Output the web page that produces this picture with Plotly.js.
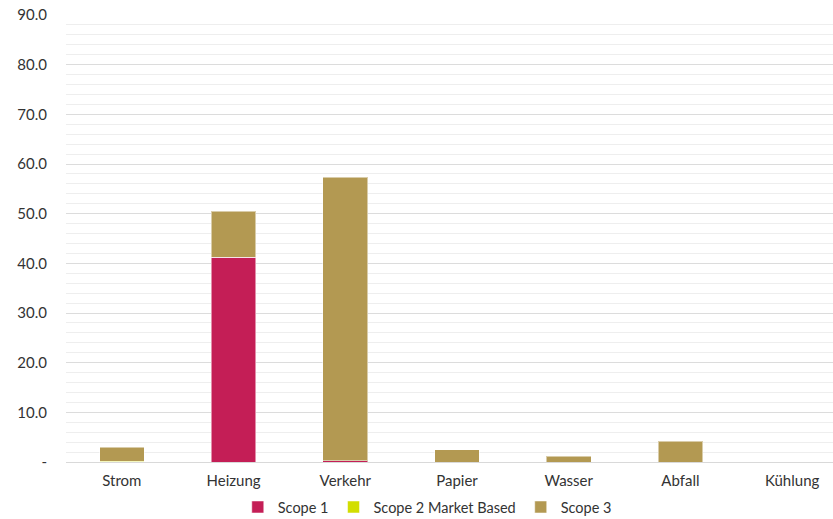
<!DOCTYPE html>
<html>
<head>
<meta charset="utf-8">
<script src="https://cdn.plot.ly/plotly-3.0.1.min.js"></script>
<style>
html,body{margin:0;padding:0;overflow:hidden;background:#fff;width:833px;height:519px;}
#chart{width:850px;height:519px;}
</style>
</head>
<body>
<div id="chart"></div>
<script>
const categories = ["Strom", "Heizung", "Verkehr", "Papier", "Wasser", "Abfall", "Kühlung"];
const scope1 = [0, 41.2, 0.3, 0, 0, 0, 0];
const scope2 = [0.2, 0, 0, 0, 0, 0, 0];
const scope3 = [2.8, 9.3, 57.0, 2.5, 1.15, 4.2, 0];
const seriesNames = ["Scope 1", "Scope 2 Market Based", "Scope 3"];
const seriesColors = ["#C41E56", "#D2DE00", "#B39952"];
const tickVals = [0, 10, 20, 30, 40, 50, 60, 70, 80, 90];
const tickText = ["-", "10.0", "20.0", "30.0", "40.0", "50.0", "60.0", "70.0", "80.0", "90.0"];

const font = "Lato, sans-serif";
const data = [scope1, scope2, scope3].map((vals, i) => ({
  type: "bar",
  name: seriesNames[i],
  x: categories,
  y: vals,
  marker: {color: seriesColors[i], line: {color: "rgba(255,255,255,0.5)", width: 1}},
  hoverinfo: "skip"
}));

const layout = {
  width: 850,
  height: 519,
  barmode: "stack",
  bargap: 0.6,
  margin: {l: 66, r: 2, t: 15, b: 57},
  paper_bgcolor: "#fff",
  plot_bgcolor: "#fff",
  font: {family: font, size: 15, color: "#333"},
  showlegend: true,
  legend: {
    orientation: "h",
    x: 0.462, xanchor: "center", xref: "paper",
    y: 0.023, yanchor: "middle", yref: "container",
    font: {family: font, size: 14.5, color: "#333"},
    itemwidth: 30,
    traceorder: "normal"
  },
  xaxis: {
    type: "category",
    showgrid: false,
    showline: true,
    linecolor: "#d9d9d9",
    linewidth: 1,
    ticks: "",
    ticklabelstandoff: 5,
    tickfont: {family: font, size: 15, color: "#333"},
    zeroline: false
  },
  yaxis: {
    range: [0, 90],
    tickmode: "array",
    tickvals: tickVals,
    ticktext: tickText,
    showgrid: true,
    gridcolor: "#dcdcdc",
    gridwidth: 1,
    minor: {dtick: 2, showgrid: true, gridcolor: "#eeeeee", gridwidth: 1},
    zeroline: false,
    ticks: "",
    ticklabelstandoff: 18,
    tickfont: {family: font, size: 15, color: "#333"}
  }
};

Plotly.newPlot("chart", data, layout, {displayModeBar: false, staticPlot: true});
</script>
</body>
</html>
